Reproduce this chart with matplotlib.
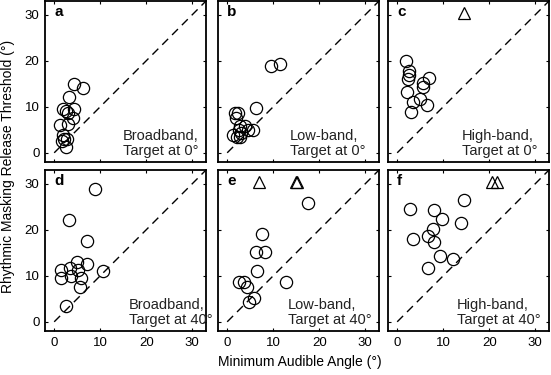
import matplotlib
matplotlib.use("Agg")
import matplotlib.pyplot as plt

plt.rcParams['font.family'] = ['Liberation Sans', 'DejaVu Sans']

# panel a: broadband, target at 0 deg
a_x = [4.4, 6.2, 3.3, 2.0, 2.5, 4.4, 3.1, 4.0, 1.3, 3.1, 2.0, 2.1, 1.6, 2.7, 2.6]
a_y = [15.0, 14.0, 12.2, 9.5, 9.1, 9.5, 8.6, 7.6, 6.0, 6.2, 3.9, 2.9, 2.6, 2.9, 1.3]
# panel b: low-band, target at 0 deg
b_x = [9.5, 11.5, 6.3, 1.7, 2.3, 1.9, 2.8, 3.9, 4.5, 5.7, 2.6, 1.2, 2.8, 3.1, 2.1]
b_y = [18.9, 19.2, 9.7, 8.6, 8.7, 7.5, 5.8, 5.8, 5.0, 5.0, 4.9, 3.9, 3.5, 4.3, 3.5]
# panel c: high-band, target at 0 deg
c_x = [2.0, 2.6, 2.6, 2.3, 7.0, 5.5, 5.5, 2.1, 5.0, 3.5, 6.5, 3.0]
c_y = [20.0, 17.8, 17.0, 16.0, 16.2, 15.1, 14.2, 13.3, 11.8, 11.1, 10.5, 8.8]
c_tri_x = [14.6]
# panel d: broadband, target at 40 deg
d_x = [8.9, 3.3, 7.2, 4.9, 7.1, 1.4, 3.4, 5.2, 10.7, 1.4, 3.6, 5.8, 5.5, 2.6]
d_y = [28.9, 22.1, 17.6, 12.9, 12.6, 11.3, 11.6, 11.3, 11.0, 9.6, 10.0, 9.6, 7.5, 3.4]
d_tri_x = []
# panel e: low-band, target at 40 deg
e_x = [17.5, 7.6, 6.3, 8.2, 6.5, 12.8, 2.5, 3.7, 4.2, 5.8, 4.8]
e_y = [25.9, 19.1, 15.2, 15.1, 11.0, 8.7, 8.6, 8.7, 7.5, 5.2, 4.2]
e_tri_x = [7.0, 15.05, 15.25]
# panel f: high-band, target at 40 deg
f_x = [14.5, 2.8, 8.1, 9.7, 13.9, 7.7, 3.4, 6.6, 8.1, 9.4, 12.1, 6.8]
f_y = [26.5, 24.5, 24.2, 22.3, 21.4, 20.2, 18.0, 18.7, 17.4, 14.2, 13.6, 11.8]
f_tri_x = [20.6, 21.8]

tri_y = 30.4  # out-of-range thresholds drawn at the top

letters = ['a', 'b', 'c', 'd', 'e', 'f']
conditions = ['Broadband,\nTarget at 0°', 'Low-band,\nTarget at 0°', 'High-band,\nTarget at 0°',
              'Broadband,\nTarget at 40°', 'Low-band,\nTarget at 40°', 'High-band,\nTarget at 40°']
xs = [a_x, b_x, c_x, d_x, e_x, f_x]
ys = [a_y, b_y, c_y, d_y, e_y, f_y]
tris = [[], [], c_tri_x, d_tri_x, e_tri_x, f_tri_x]
text_x = [15.0, 13.7, 14.0, 16.3, 13.2, 13.0]

W, H = 551, 375
fig = plt.figure(figsize=(W / 100, H / 100), dpi=100)

cols = [(45, 206), (218, 379), (388, 549)]
rows = [(1, 162), (170, 331)]

for k in range(6):
    r, c = divmod(k, 3)
    l, rr = cols[c]
    t, b = rows[r]
    ax = fig.add_axes([l / W, 1 - b / H, (rr - l) / W, (b - t) / H])
    ax.plot([0, 33], [0, 33], color='black', lw=1.0, ls=(0, (6, 4)))
    ax.plot(xs[k], ys[k], 'o', mfc='none', mec='black', ms=8.8, mew=0.9)
    if tris[k]:
        ax.plot(tris[k], [tri_y] * len(tris[k]), '^', mfc='none', mec='black', ms=8.8, mew=0.9)
    ax.set_xlim(-2, 33)
    ax.set_ylim(-2, 33)
    ax.set_xticks([0, 10, 20, 30])
    ax.set_yticks([0, 10, 20, 30])
    ax.tick_params(direction='in', length=2.5, width=0.8, top=True, right=True,
                   labelsize=9.5, pad=4)
    if c != 0:
        ax.set_yticklabels([])
    if r == 0:
        ax.set_xticklabels([])
    for s in ax.spines.values():
        s.set_linewidth(1.3)
    ax.text(0.0, 30.6, letters[k], fontsize=11, fontweight='bold', ha='left', va='center')
    ax.text(text_x[k], 2.1, conditions[k], fontsize=10.5, ha='left', va='center',
            linespacing=1.1, color='#222222')

fig.text(8 / W, 1 - 166 / H, 'Rhythmic Masking Release Threshold (°)', rotation=90,
         ha='center', va='center', fontsize=10)
fig.text(300 / W, 1 - 362 / H, 'Minimum Audible Angle (°)', ha='center', va='center', fontsize=10)

fig.savefig('out.png', dpi=100)
